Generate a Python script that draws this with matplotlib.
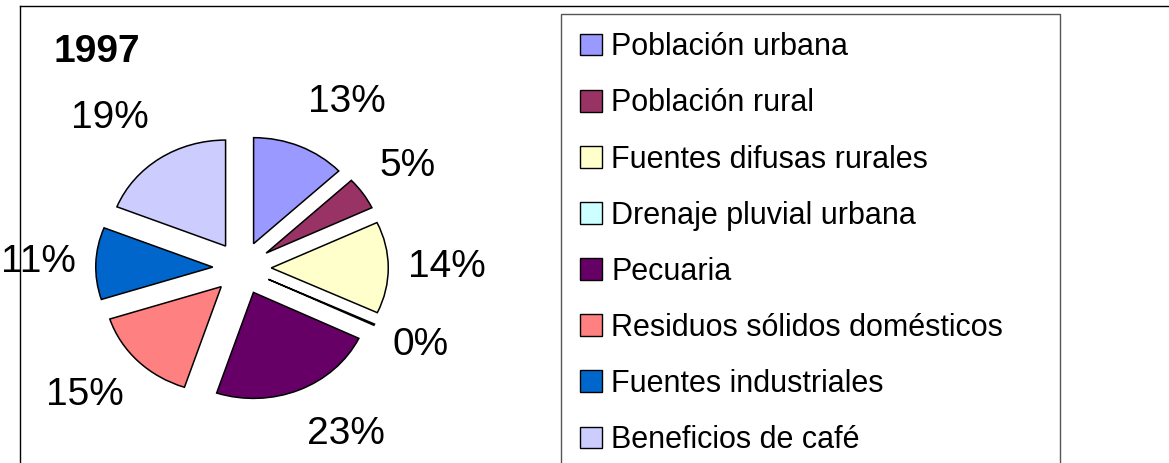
import matplotlib
matplotlib.use("Agg")
import matplotlib.pyplot as plt
from matplotlib.lines import Line2D
from matplotlib.patches import Rectangle

plt.rcParams["font.family"] = ["Liberation Sans", "DejaVu Sans"]

# data (percent shares, 1997)
categories = [
    "Población urbana",
    "Población rural",
    "Fuentes difusas rurales",
    "Drenaje pluvial urbana",
    "Pecuaria",
    "Residuos sólidos domésticos",
    "Fuentes industriales",
    "Beneficios de café",
]
shares = [13, 5, 14, 0.2, 23, 15, 11, 19]
colors = ["#9999FF", "#993366", "#FFFFCC", "#CCFFFF",
          "#660066", "#FF8080", "#0066CC", "#CCCCFF"]
title = "1997"

W, H = 1169, 463
fig = plt.figure(figsize=(W / 100, H / 100), dpi=100)
ax = fig.add_axes([0, 0, 1, 1])

total = sum(shares)
pct_labels = [f"{v / total * 100:.0f}%" for v in shares]

wedges, texts = ax.pie(
    shares,
    colors=colors,
    labels=pct_labels,
    startangle=90,
    counterclock=False,
    explode=[0.25] * len(shares),
    labeldistance=1.17,
    wedgeprops=dict(edgecolor="black", linewidth=1.1),
    textprops=dict(fontsize=28),
)
# labels sit a bit further out vertically (stretched chart)
for t in texts:
    x, y = t.get_position()
    t.set_position((x, y * 1.2))

# elliptical pie: 117 px per unit horizontally, 106 px vertically
cx, cy = 242, 268
sx, sy = 117, 106
ax.set_aspect("auto")
ax.set_xlim(-cx / sx, (W - cx) / sx)
ax.set_ylim(-(H - cy) / sy, cy / sy)
ax.axis("off")

fig.text(53 / W, 1 - 62 / H, title, fontsize=28, fontweight="bold",
         ha="left", va="baseline")

# outer frame (top and left edges)
fig.add_artist(Line2D([20 / W, 1.01], [1 - 6 / H, 1 - 6 / H],
                      color="black", linewidth=1, transform=fig.transFigure))
fig.add_artist(Line2D([20 / W, 20 / W], [1 - 6 / H, -0.01],
                      color="black", linewidth=1, transform=fig.transFigure))

# legend box
fig.add_artist(Rectangle((561 / W, -0.05), (1060 - 561) / W, 1 - 14 / H + 0.05,
                         fill=False, edgecolor="#555555", linewidth=1,
                         transform=fig.transFigure))

handles = [Rectangle((0, 0), 1, 1, facecolor=c, edgecolor="black", linewidth=1)
           for c in colors]
fig.legend(
    handles, categories,
    loc="upper left",
    bbox_to_anchor=(565 / W, 1 - 17 / H),
    frameon=False,
    fontsize=22,
    borderpad=0,
    handlelength=0.72,
    handleheight=0.72,
    handletextpad=0.3,
    labelspacing=0.855,
)

fig.savefig("out.png", dpi=100)
